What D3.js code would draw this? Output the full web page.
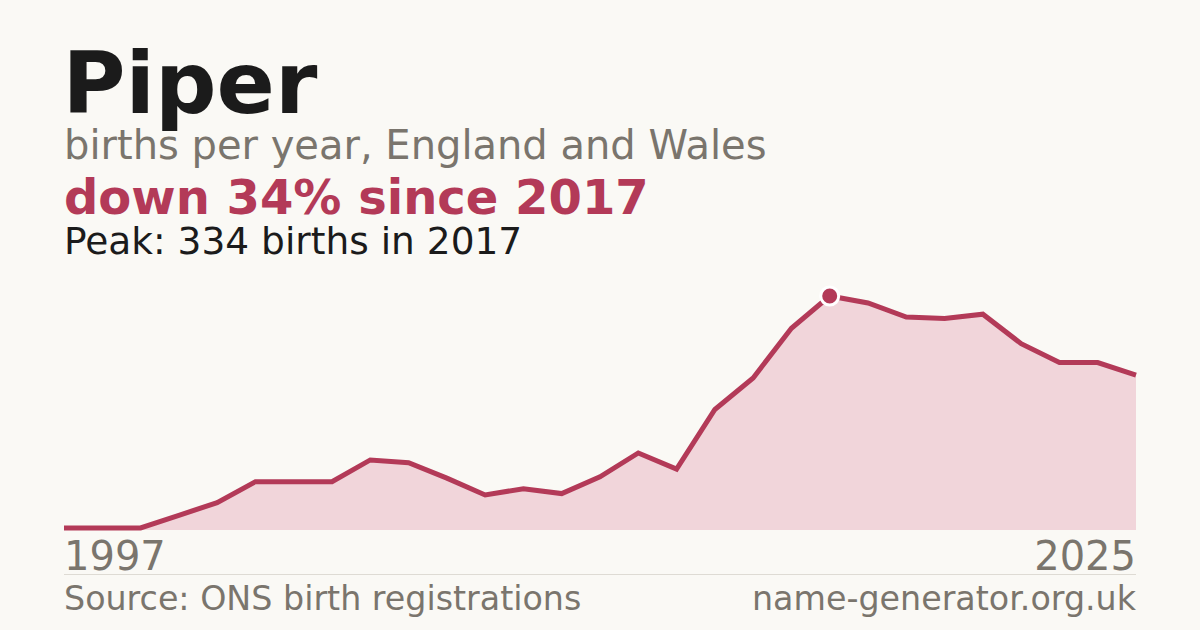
<!DOCTYPE html>
<html><head><meta charset="utf-8">
<script src="https://cdn.jsdelivr.net/npm/d3@7"></script>
<style>
html,body{margin:0;padding:0;background:#faf9f5;}
svg{display:block;font-family:"DejaVu Sans",sans-serif;}
</style></head>
<body><svg id="c" width="1200" height="630"></svg>
<script>
const years = [1997,1998,1999,2000,2001,2002,2003,2004,2005,2006,2007,2008,2009,2010,2011,2012,2013,2014,2015,2016,2017,2018,2019,2020,2021,2022,2023,2024,2025];
const births = [3,3,3,21,39,69,69,69,100,96,74,50,59,52,76,110,87,172,217,288,334,324,304,302,308,266,239,239,221];
const peakYear = 2017;
const peakValue = 334;
const xTickLabels = ["1997","2025"];

const svg = d3.select("#c");
const W = 1200, H = 630;
svg.append("rect").attr("width",W).attr("height",H).attr("fill","#faf9f5");

const x = d3.scaleLinear().domain([1997,2025]).range([64,1136]);
const y = d3.scaleLinear().domain([0,peakValue]).range([530,296]);
const data = years.map((yr,i)=>({yr, v:births[i]}));

const red = "#b33a58";
svg.append("path").datum(data)
  .attr("d", d3.area().x(d=>x(d.yr)).y0(y(0)).y1(d=>y(d.v)))
  .attr("fill","#f1d5da");
svg.append("path").datum(data)
  .attr("d", d3.line().x(d=>x(d.yr)).y(d=>y(d.v)))
  .attr("fill","none").attr("stroke",red).attr("stroke-width",5).attr("stroke-linejoin","miter");

svg.append("circle").attr("cx",x(peakYear)).attr("cy",y(peakValue)).attr("r",9)
  .attr("fill",red).attr("stroke","#ffffff").attr("stroke-width",3);

// header texts
svg.append("text").attr("x",62.5).attr("y",112.5).attr("font-size",86).attr("font-weight","bold").attr("fill","#1b1b1b").text("Piper");
svg.append("text").attr("x",64).attr("y",159).attr("font-size",40).attr("fill","#7a756d").text("births per year, England and Wales");
svg.append("text").attr("x",64).attr("y",214).attr("font-size",48).attr("font-weight","bold").attr("fill",red).text("down 34% since 2017");
svg.append("text").attr("x",64).attr("y",253.5).attr("font-size",37.5).attr("fill","#1b1b1b").text(`Peak: ${peakValue} births in ${peakYear}`);

// axis labels
const xa = svg.append("g").attr("transform","translate(0,570)");
xa.selectAll("text").data(xTickLabels).join("text")
  .attr("x",(d,i)=>x(+d)).attr("text-anchor",(d,i)=>i===0?"start":"end")
  .attr("font-size",40).attr("fill","#7a756d").text(d=>d);

svg.append("line").attr("x1",64).attr("x2",1136).attr("y1",574.5).attr("y2",574.5).attr("stroke","#dedbd4").attr("stroke-width",1);

svg.append("text").attr("x",64).attr("y",609.5).attr("font-size",33.3).attr("fill","#7a756d").text("Source: ONS birth registrations");
svg.append("text").attr("x",1136).attr("y",609.5).attr("text-anchor","end").attr("font-size",33.3).attr("fill","#7a756d").text("name-generator.org.uk");
</script></body></html>
